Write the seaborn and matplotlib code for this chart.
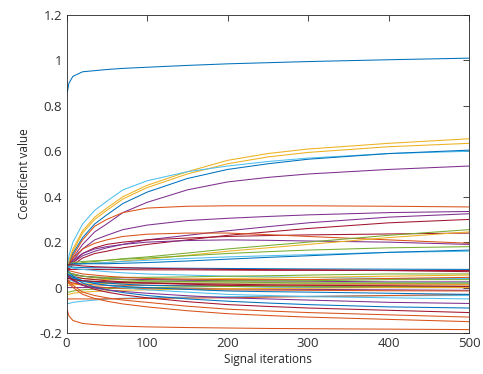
import numpy as np
import pandas as pd
import matplotlib
matplotlib.use("Agg")
import matplotlib.pyplot as plt
import seaborn as sns
from matplotlib.ticker import FuncFormatter

# Sample iterations where each coefficient trajectory was read
iterations = [1, 3, 8, 20, 35, 50, 70, 100, 150, 200, 250, 300, 400, 500]

# MATLAB default colour order
matlab_colors = {
    "B": "#0072BD", "O": "#D95319", "Y": "#EDB120", "P": "#7E2F8E",
    "G": "#77AC30", "C": "#4DBEEE", "R": "#A2142F",
}

# Coefficient trajectories (colour key, values at `iterations`)
c01 = ("B", [0.86, 0.90, 0.93, 0.95, 0.955, 0.96, 0.965, 0.97, 0.978, 0.985, 0.99, 0.995, 1.003, 1.01])
c02 = ("O", [-0.10, -0.125, -0.145, -0.158, -0.163, -0.167, -0.17, -0.173, -0.176, -0.178, -0.18, -0.181, -0.183, -0.185])
c03 = ("Y", [0.09, 0.12, 0.17, 0.25, 0.31, 0.35, 0.40, 0.45, 0.51, 0.56, 0.59, 0.61, 0.635, 0.655])
c04 = ("Y", [0.08, 0.11, 0.16, 0.24, 0.30, 0.34, 0.39, 0.44, 0.50, 0.545, 0.575, 0.595, 0.62, 0.635])
c05 = ("C", [0.10, 0.14, 0.20, 0.28, 0.34, 0.38, 0.43, 0.47, 0.51, 0.535, 0.555, 0.57, 0.59, 0.60])
c06 = ("B", [0.08, 0.10, 0.15, 0.22, 0.28, 0.32, 0.37, 0.42, 0.48, 0.52, 0.545, 0.565, 0.59, 0.605])
c07 = ("P", [0.07, 0.09, 0.13, 0.19, 0.245, 0.28, 0.33, 0.375, 0.43, 0.465, 0.485, 0.50, 0.52, 0.535])
c08 = ("O", [0.08, 0.10, 0.14, 0.21, 0.27, 0.30, 0.33, 0.35, 0.358, 0.36, 0.36, 0.36, 0.358, 0.355])
c09 = ("P", [0.07, 0.09, 0.12, 0.17, 0.21, 0.23, 0.255, 0.275, 0.295, 0.305, 0.313, 0.32, 0.33, 0.335])
c10 = ("P", [0.08, 0.09, 0.11, 0.14, 0.16, 0.175, 0.19, 0.21, 0.23, 0.25, 0.268, 0.285, 0.31, 0.325])
c11 = ("R", [0.07, 0.08, 0.10, 0.13, 0.15, 0.16, 0.175, 0.19, 0.21, 0.23, 0.245, 0.26, 0.285, 0.30])
c12 = ("R", [0.08, 0.09, 0.11, 0.15, 0.175, 0.19, 0.20, 0.21, 0.218, 0.225, 0.229, 0.232, 0.236, 0.24])
c13 = ("O", [0.08, 0.10, 0.13, 0.17, 0.195, 0.21, 0.225, 0.235, 0.24, 0.24, 0.233, 0.225, 0.21, 0.195])
c14 = ("P", [0.09, 0.10, 0.12, 0.15, 0.17, 0.18, 0.19, 0.20, 0.207, 0.21, 0.208, 0.205, 0.20, 0.19])
c15 = ("G", [0.10, 0.10, 0.10, 0.11, 0.115, 0.12, 0.127, 0.135, 0.152, 0.17, 0.185, 0.20, 0.23, 0.255])
c16 = ("Y", [0.10, 0.10, 0.10, 0.105, 0.108, 0.11, 0.117, 0.125, 0.142, 0.16, 0.175, 0.19, 0.22, 0.245])
c17 = ("G", [0.10, 0.10, 0.11, 0.115, 0.118, 0.12, 0.125, 0.13, 0.14, 0.15, 0.158, 0.165, 0.175, 0.18])
c18 = ("C", [0.09, 0.09, 0.10, 0.105, 0.108, 0.11, 0.115, 0.12, 0.128, 0.135, 0.14, 0.145, 0.155, 0.16])
c19 = ("B", [0.10, 0.10, 0.105, 0.105, 0.105, 0.105, 0.107, 0.11, 0.117, 0.125, 0.133, 0.14, 0.155, 0.165])
c20 = ("B", [0.09, 0.09, 0.09, 0.088, 0.087, 0.087, 0.086, 0.086, 0.085, 0.084, 0.083, 0.082, 0.081, 0.08])
c21 = ("R", [0.08, 0.08, 0.08, 0.08, 0.08, 0.079, 0.079, 0.078, 0.078, 0.077, 0.076, 0.076, 0.075, 0.075])
c22 = ("R", [0.10, 0.10, 0.10, 0.095, 0.092, 0.09, 0.088, 0.085, 0.082, 0.08, 0.079, 0.078, 0.075, 0.07])
c23 = ("C", [0.09, 0.09, 0.085, 0.08, 0.075, 0.07, 0.065, 0.06, 0.055, 0.05, 0.047, 0.045, 0.04, 0.04])
c24 = ("G", [0.06, 0.06, 0.055, 0.05, 0.047, 0.045, 0.045, 0.045, 0.047, 0.05, 0.052, 0.055, 0.06, 0.06])
c25 = ("Y", [0.05, 0.05, 0.045, 0.04, 0.037, 0.035, 0.035, 0.035, 0.037, 0.04, 0.042, 0.045, 0.05, 0.055])
c26 = ("O", [0.08, 0.075, 0.07, 0.06, 0.055, 0.05, 0.045, 0.04, 0.037, 0.035, 0.035, 0.035, 0.04, 0.045])
c27 = ("P", [0.07, 0.065, 0.06, 0.05, 0.045, 0.04, 0.037, 0.035, 0.032, 0.03, 0.029, 0.028, 0.025, 0.025])
c28 = ("G", [0.04, 0.04, 0.035, 0.03, 0.027, 0.025, 0.025, 0.025, 0.027, 0.03, 0.03, 0.03, 0.035, 0.035])
c29 = ("C", [0.03, 0.03, 0.03, 0.025, 0.022, 0.02, 0.02, 0.02, 0.02, 0.02, 0.02, 0.02, 0.02, 0.02])
c30 = ("O", [0.02, 0.02, 0.02, 0.015, 0.012, 0.01, 0.01, 0.01, 0.01, 0.01, 0.011, 0.012, 0.012, 0.012])
c31 = ("Y", [0.01, 0.01, 0.012, 0.015, 0.017, 0.018, 0.019, 0.02, 0.02, 0.02, 0.02, 0.02, 0.018, 0.015])
c32 = ("B", [0.05, 0.045, 0.04, 0.03, 0.025, 0.02, 0.015, 0.01, 0.007, 0.005, 0.003, 0.002, 0.0, 0.0])
c33 = ("R", [0.06, 0.055, 0.05, 0.04, 0.035, 0.03, 0.025, 0.02, 0.015, 0.01, 0.007, 0.005, 0.002, 0.0])
c34 = ("P", [0.0, 0.0, 0.0, 0.0, 0.0, 0.0, 0.0, 0.0, -0.003, -0.005, -0.007, -0.008, -0.01, -0.012])
c35 = ("G", [-0.02, -0.02, -0.015, -0.01, -0.007, -0.005, -0.002, 0.0, 0.003, 0.005, 0.005, 0.005, 0.005, 0.005])
c36 = ("O", [0.03, 0.025, 0.02, 0.01, 0.004, 0.0, -0.003, -0.005, -0.008, -0.01, -0.011, -0.012, -0.014, -0.015])
c37 = ("Y", [-0.03, -0.03, -0.025, -0.02, -0.017, -0.015, -0.012, -0.01, -0.007, -0.005, -0.004, -0.003, 0.0, 0.0])
c38 = ("C", [-0.07, -0.07, -0.065, -0.06, -0.055, -0.05, -0.047, -0.045, -0.042, -0.04, -0.039, -0.038, -0.036, -0.035])
c39 = ("O", [-0.05, -0.05, -0.05, -0.05, -0.05, -0.05, -0.049, -0.048, -0.046, -0.045, -0.042, -0.04, -0.035, -0.03])
c40 = ("C", [0.07, 0.06, 0.05, 0.03, 0.018, 0.01, 0.0, -0.01, -0.02, -0.03, -0.035, -0.04, -0.045, -0.05])
c41 = ("B", [0.08, 0.07, 0.05, 0.02, 0.003, -0.01, -0.022, -0.035, -0.05, -0.06, -0.068, -0.075, -0.085, -0.09])
c42 = ("R", [0.06, 0.05, 0.035, 0.01, -0.008, -0.02, -0.032, -0.045, -0.062, -0.075, -0.083, -0.09, -0.10, -0.11])
c43 = ("O", [0.04, 0.03, 0.01, -0.02, -0.035, -0.045, -0.055, -0.065, -0.082, -0.095, -0.103, -0.11, -0.12, -0.13])
c44 = ("O", [0.03, 0.02, 0.0, -0.03, -0.048, -0.06, -0.072, -0.085, -0.102, -0.115, -0.123, -0.13, -0.14, -0.15])
c45 = ("P", [0.05, 0.045, 0.03, 0.01, -0.002, -0.01, -0.017, -0.025, -0.036, -0.045, -0.05, -0.055, -0.065, -0.07])
c46 = ("B", [0.06, 0.055, 0.045, 0.03, 0.018, 0.01, 0.005, 0.0, -0.008, -0.015, -0.018, -0.02, -0.025, -0.03])
c47 = ("G", [0.07, 0.065, 0.06, 0.05, 0.044, 0.04, 0.035, 0.03, 0.027, 0.025, 0.022, 0.02, 0.02, 0.02])
c48 = ("R", [0.04, 0.04, 0.035, 0.03, 0.027, 0.025, 0.022, 0.02, 0.017, 0.015, 0.012, 0.01, 0.008, 0.005])

coefficients = [c01, c02, c03, c04, c05, c06, c07, c08, c09, c10, c11, c12,
                c13, c14, c15, c16, c17, c18, c19, c20, c21, c22, c23, c24,
                c25, c26, c27, c28, c29, c30, c31, c32, c33, c34, c35, c36,
                c37, c38, c39, c40, c41, c42, c43, c44, c45, c46, c47, c48]

x_ticks = [0, 100, 200, 300, 400, 500]
y_ticks = [-0.2, 0, 0.2, 0.4, 0.6, 0.8, 1.0, 1.2]

rows = []
for i, (ck, vals) in enumerate(coefficients):
    for it, v in zip(iterations, vals):
        rows.append({"coef": i, "iteration": it, "value": v})
df = pd.DataFrame(rows)
palette = {i: matlab_colors[ck] for i, (ck, _) in enumerate(coefficients)}

sns.set_style("white")
plt.rcParams["font.family"] = ["Open Sans", "DejaVu Sans"]

fig = plt.figure(figsize=(4.83, 3.74), dpi=100)
ax = fig.add_axes([66.5 / 483, 41 / 374, (469 - 66.5) / 483, (333 - 15) / 374])

sns.lineplot(data=df, x="iteration", y="value", hue="coef", palette=palette,
             legend=False, linewidth=0.75, estimator=None, sort=False, ax=ax)

ax.set_xlim(0, 500)
ax.set_ylim(-0.2, 1.2)
ax.set_xticks(x_ticks)
ax.set_yticks(y_ticks)
ax.yaxis.set_major_formatter(FuncFormatter(lambda v, p: f"{v:g}"))
ax.tick_params(direction="in", length=4, width=0.6, top=True, right=True,
               colors="#262626", labelsize=9.5, labelcolor="#303030", pad=3)
for s in ax.spines.values():
    s.set_visible(True)
    s.set_color("#262626")
    s.set_linewidth(0.6)
ax.set_xlabel("Signal iterations", fontsize=8.5, color="#262626", labelpad=2)
ax.set_ylabel("Coefficient value", fontsize=8.5, color="#262626", labelpad=6)

fig.savefig("out.png", dpi=100, facecolor="white")
